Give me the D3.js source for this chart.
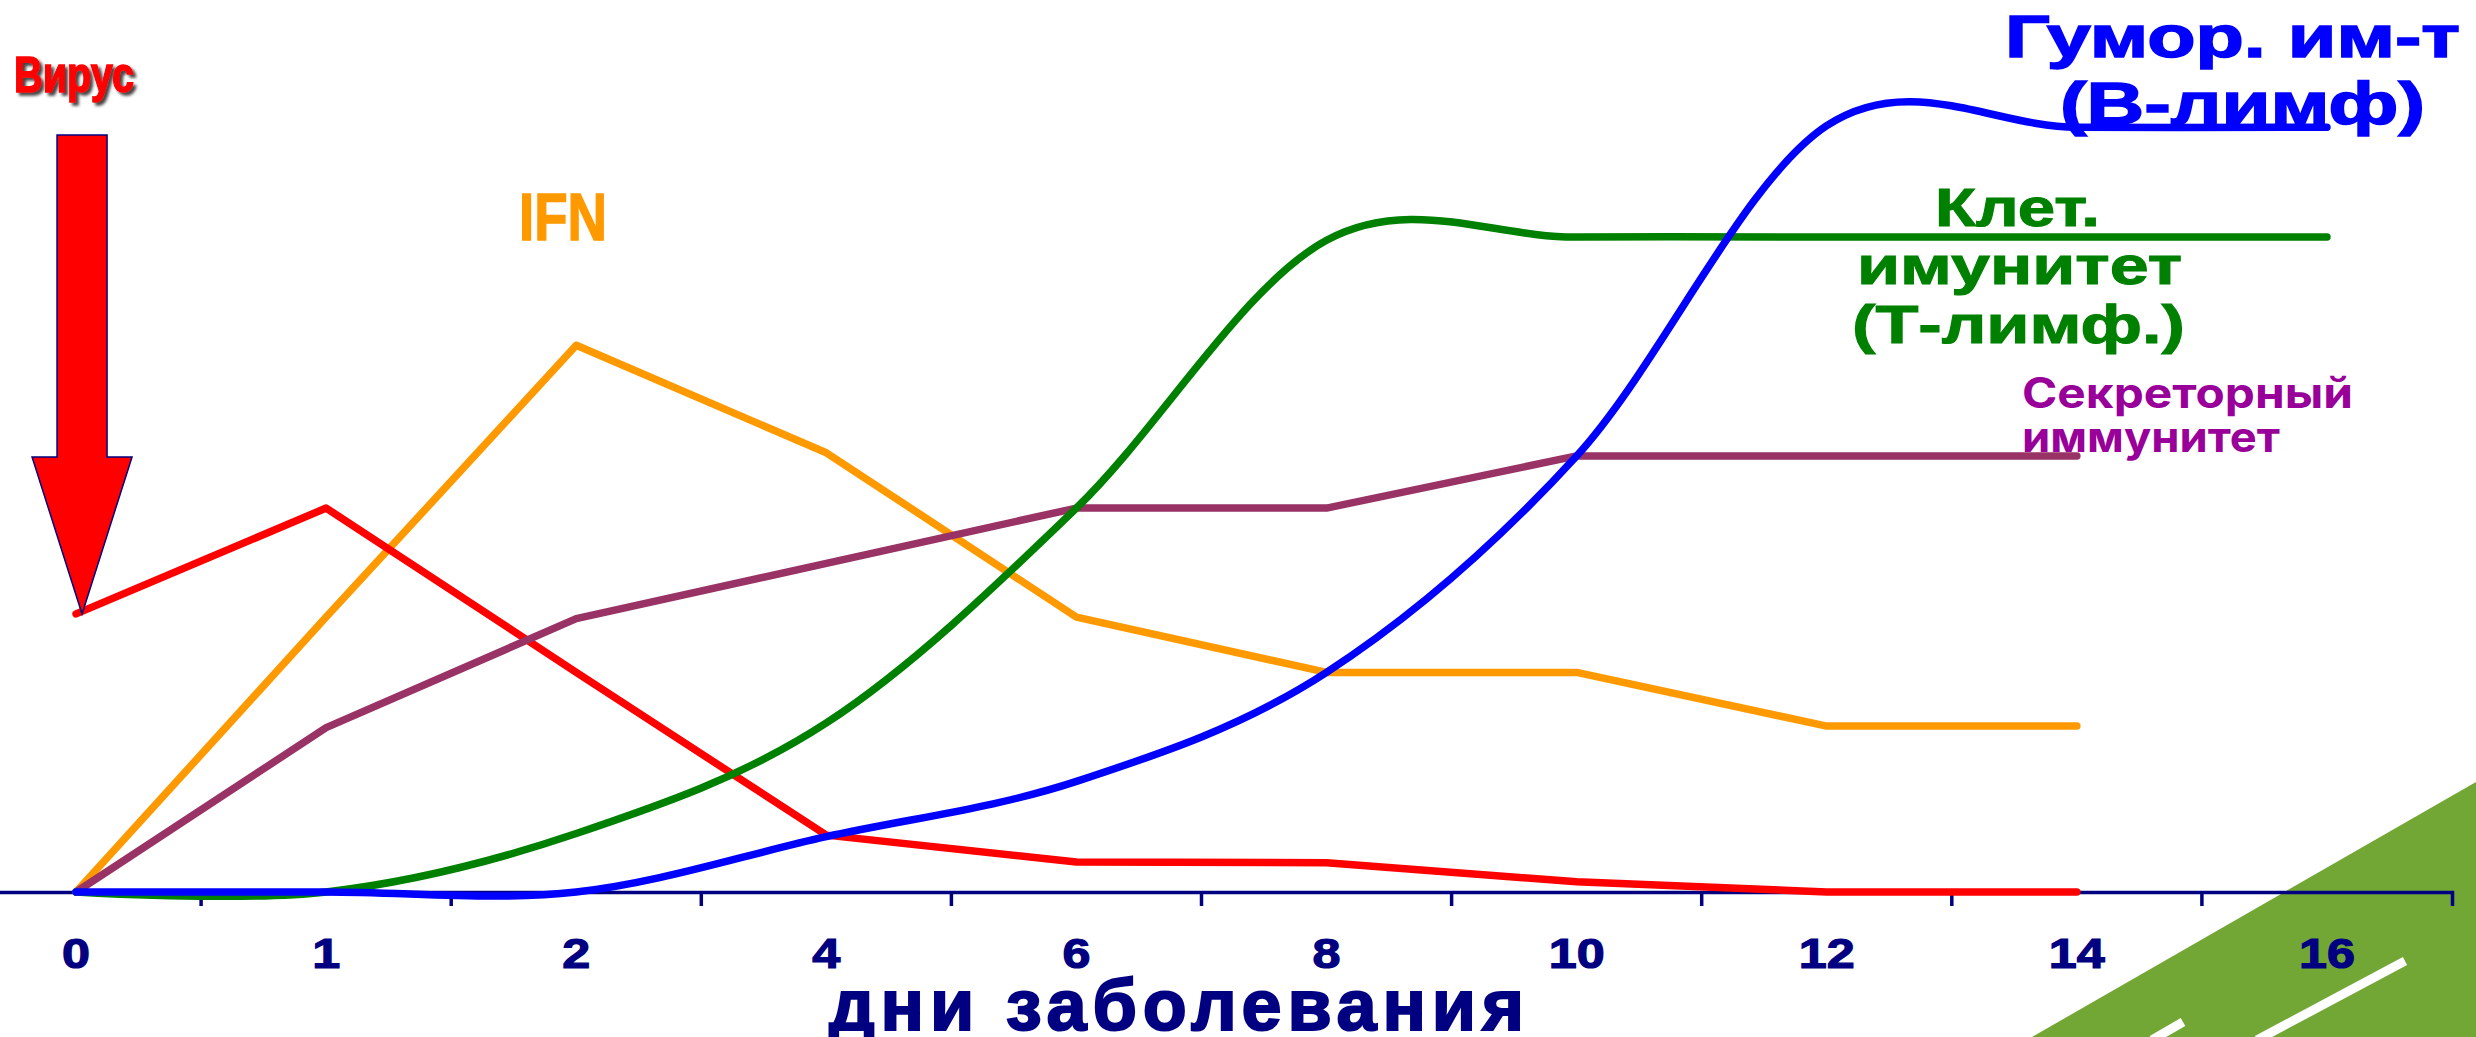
<!DOCTYPE html>
<html>
<head>
<meta charset="utf-8">
<script src="https://cdn.jsdelivr.net/npm/d3@7"></script>
<style>
  body { margin: 0; background: #fff; }
  svg { display: block; }
</style>
</head>
<body>
<div id="chart"></div>
<script>
// days of illness (category axis)
var days = ['0', '1', '2', '4', '6', '8', '10', '12', '14', '16'];

// relative levels
var virus     = [35.2, 48.6, 27.8, 7.2, 3.8, 3.7, 1.3, 0, 0];
var ifn       = [0, 34.8, 69.2, 55.6, 34.8, 27.8, 27.8, 21, 21];
var secretory = [0, 20.8, 34.6, 41.6, 48.6, 48.6, 55.2, 55.2, 55.2];
var cellular  = [0, 0, 7.4, 21.4, 48.6, 82.5, 82.9, 82.9, 82.9, 82.9];
var humoral   = [0, 0, 0, 7.0, 14.0, 27.8, 55.2, 97, 96.8, 96.8];

var width = 2476,
    height = 1037;

var svg = d3.select('#chart').append('svg')
    .attr('width', width)
    .attr('height', height);

var x = d3.scaleBand().domain(days).range([-49, 2452]);
var y = d3.scaleLinear().domain([0, 100]).range([892, 102]);
var cx = function(d) { return x(d) + x.bandwidth() / 2; };

var navy = '#000080';
var font = '"Liberation Sans", Arial, sans-serif';

// shadow for the "Вирус" label
svg.append('defs').append('filter')
    .attr('id', 'shadow')
    .attr('x', '-10%').attr('y', '-20%')
    .attr('width', '130%').attr('height', '150%')
    .append('feDropShadow')
    .attr('dx', 3).attr('dy', 3)
    .attr('stdDeviation', 1.5)
    .attr('flood-color', '#303030')
    .attr('flood-opacity', 0.9);

// green decoration in the corner
svg.append('polygon')
    .attr('points', '2032,1037 2476,782 2476,1037')
    .attr('fill', '#72a735');
svg.append('line')
    .attr('x1', 2405).attr('y1', 961).attr('x2', 2257).attr('y2', 1040)
    .attr('stroke', '#fff').attr('stroke-width', 9);
svg.append('line')
    .attr('x1', 2183).attr('y1', 1022).attr('x2', 2152).attr('y2', 1040)
    .attr('stroke', '#fff').attr('stroke-width', 9);

// x axis
var axis = svg.append('g')
    .attr('transform', 'translate(0,' + y(0) + ')')
    .call(d3.axisBottom(x).tickSizeInner(0).tickSizeOuter(14));

axis.select('.domain')
    .attr('stroke', navy)
    .attr('stroke-width', 3.5);

axis.selectAll('.tick text')
    .attr('y', 76)
    .attr('dy', 0)
    .attr('fill', navy)
    .attr('stroke', navy)
    .attr('stroke-width', 1.2)
    .attr('font-family', font)
    .attr('font-weight', 'bold')
    .attr('font-size', 42)
    .attr('textLength', function(d) { return d.length * 28; })
    .attr('lengthAdjust', 'spacingAndGlyphs');

// tick marks sit between the categories
axis.selectAll('.sep')
    .data(days)
    .enter().append('line')
    .attr('class', 'sep')
    .attr('x1', function(d) { return x(d); })
    .attr('x2', function(d) { return x(d); })
    .attr('y1', 0)
    .attr('y2', 14)
    .attr('stroke', navy)
    .attr('stroke-width', 3.5);

svg.append('text')
    .attr('x', 829).attr('y', 1030)
    .attr('fill', navy)
    .attr('stroke', navy)
    .attr('stroke-width', 2)
    .attr('font-family', font)
    .attr('font-weight', 'bold')
    .attr('font-size', 72)
    .attr('textLength', 695)
    .attr('lengthAdjust', 'spacing')
    .text('дни заболевания');

// series
var series = [
    {values: ifn,       color: '#ff9900', curve: d3.curveLinear},
    {values: virus,     color: '#ff0000', curve: d3.curveLinear},
    {values: secretory, color: '#993366', curve: d3.curveLinear},
    {values: cellular,  color: '#008000', curve: d3.curveCardinal.tension(0)},
    {values: humoral,   color: '#0000ff', curve: d3.curveCardinal.tension(0)}
];

series.forEach(function(s) {
    var line = d3.line()
        .x(function(d, i) { return cx(days[i]); })
        .y(function(d) { return y(d); })
        .curve(s.curve);

    svg.append('path')
        .datum(s.values)
        .attr('d', line)
        .attr('fill', 'none')
        .attr('stroke', s.color)
        .attr('stroke-width', 7.5)
        .attr('stroke-linecap', 'round')
        .attr('stroke-linejoin', 'round');
});

// virus arrow, tip on the start of the virus line
var tx = cx(days[0]) + 6,
    ty = y(virus[0]);
svg.append('path')
    .attr('d', 'M' + tx + ',' + ty +
        'L' + (tx - 50) + ',' + (ty - 157) +
        'L' + (tx - 25) + ',' + (ty - 157) +
        'L' + (tx - 25) + ',135' +
        'L' + (tx + 25) + ',135' +
        'L' + (tx + 25) + ',' + (ty - 157) +
        'L' + (tx + 50) + ',' + (ty - 157) + 'Z')
    .attr('fill', '#ff0000')
    .attr('stroke', navy)
    .attr('stroke-width', 1.5);

// labels
function label(txt, lx, ly, size, len, color, heavy, family) {
    return svg.append('text')
        .attr('x', lx).attr('y', ly)
        .attr('fill', color)
        .attr('stroke', color)
        .attr('stroke-width', heavy || 0)
        .attr('font-family', family || font)
        .attr('font-weight', 'bold')
        .attr('font-size', size)
        .attr('textLength', len)
        .attr('lengthAdjust', 'spacingAndGlyphs')
        .text(txt);
}

label('Вирус', 14, 92, 50, 120, '#ff0000', 1.5).attr('filter', 'url(#shadow)');
label('IFN', 519, 240, 66, 88, '#ff9900', 1.5);

label('Гумор. им-т', 2005, 57, 59, 455, '#0000ff', 1.5);
label('(В-лимф)', 2060, 124, 59, 365, '#0000ff', 1.5);

label('Клет.', 1935, 226, 53, 165, '#008000', 1);
label('имунитет', 1857, 284, 53, 325, '#008000', 1);
label('(Т-лимф.)', 1852, 343, 53, 333, '#008000', 1);

label('Секреторный', 2022, 408, 42, 331, '#990099', 0, 'Inter, "Noto Sans", sans-serif');
label('иммунитет', 2022, 452, 42, 258, '#990099', 0, 'Inter, "Noto Sans", sans-serif');
</script>
</body>
</html>
